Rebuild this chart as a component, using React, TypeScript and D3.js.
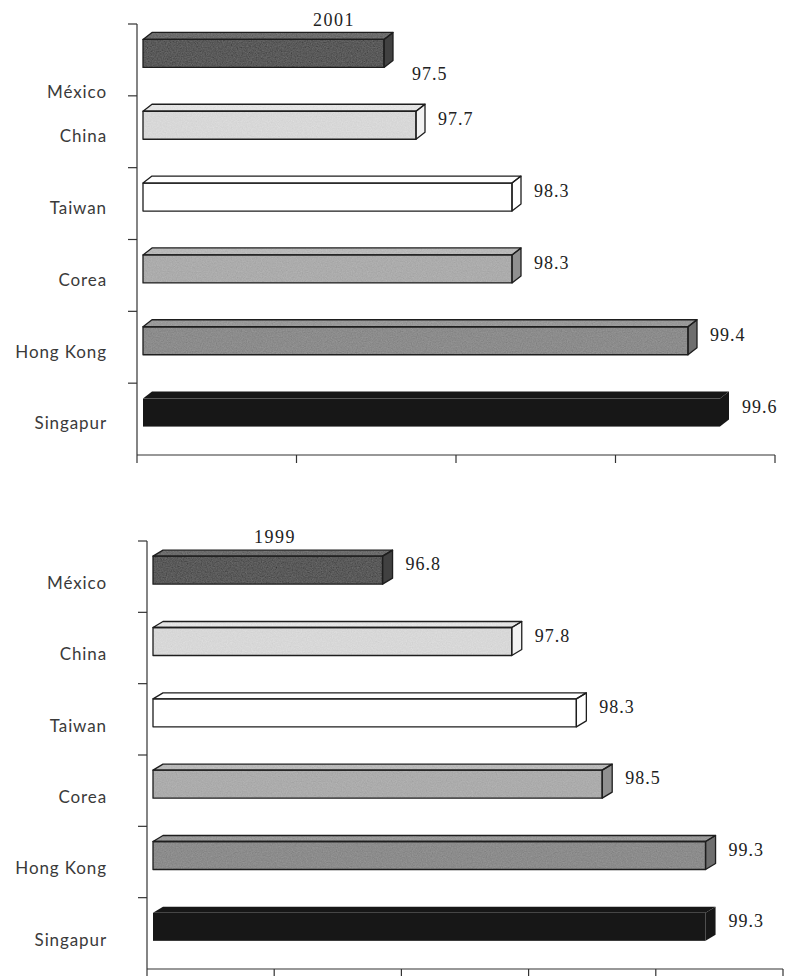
import React from "react";
import * as d3 from "d3";

const categories = ["México", "China", "Taiwan", "Corea", "Hong Kong", "Singapur"];
const values2001 = [97.5, 97.7, 98.3, 98.3, 99.4, 99.6];
const values1999 = [96.8, 97.8, 98.3, 98.5, 99.3, 99.3];
const ticks2001 = [96, 97, 98, 99, 100];
const ticks1999 = [95, 96, 97, 98, 99, 100];

const palette: Record<string, { front: string; top: string; side: string; stroke: string; tex: boolean }> = {
  "México": { front: "#5a5a5a", top: "#6c6c6c", side: "#414141", stroke: "#1e1e1e", tex: true },
  China: { front: "#d8d8d8", top: "#e4e4e4", side: "#f2f2f2", stroke: "#1e1e1e", tex: true },
  Taiwan: { front: "#ffffff", top: "#ffffff", side: "#ffffff", stroke: "#1e1e1e", tex: false },
  Corea: { front: "#acacac", top: "#b9b9b9", side: "#909090", stroke: "#1e1e1e", tex: true },
  "Hong Kong": { front: "#8c8c8c", top: "#999999", side: "#6e6e6e", stroke: "#1e1e1e", tex: true },
  Singapur: { front: "#171717", top: "#171717", side: "#171717", stroke: "none", tex: false },
};

type ChartCfg = {
  title: string;
  values: number[];
  ticks: number[];
  yTop: number;
  yBottom: number;
  axisRange: [number, number];
  barRange: [number, number];
  barStart: number;
  dx: number;
  dy: number;
  titleX: number;
  titleY: number;
  mexLabelOnTick: boolean;
  mexValueBelow: boolean;
  labelDy: number;
};

const charts: ChartCfg[] = [
  {
    title: "2001",
    values: values2001,
    ticks: ticks2001,
    yTop: 24,
    yBottom: 455,
    axisRange: [137, 775],
    barRange: [144, 784],
    barStart: 143,
    dx: 9,
    dy: 7,
    titleX: 334,
    titleY: 26,
    mexLabelOnTick: true,
    mexValueBelow: true,
    labelDy: 6,
  },
  {
    title: "1999",
    values: values1999,
    ticks: ticks1999,
    yTop: 541,
    yBottom: 969,
    axisRange: [147, 783],
    barRange: [150, 796],
    barStart: 153,
    dx: 10,
    dy: 6,
    titleX: 275,
    titleY: 543,
    mexLabelOnTick: false,
    mexValueBelow: false,
    labelDy: 8,
  },
];

function Chart({ cfg }: { cfg: ChartCfg }) {
  const domain = [cfg.ticks[0], cfg.ticks[cfg.ticks.length - 1]];
  const xAxis = d3.scaleLinear().domain(domain).range(cfg.axisRange);
  const xBar = d3.scaleLinear().domain(domain).range(cfg.barRange);
  const y = d3.scaleBand<string>().domain(categories).range([cfg.yTop, cfg.yBottom]);
  const bw = y.bandwidth();
  const h = 28;
  const axisX = cfg.axisRange[0];

  return (
    <g>
      <text
        x={cfg.titleX}
        y={cfg.titleY}
        textAnchor="middle"
        fontFamily="'Liberation Serif', serif"
        fontSize={18}
        letterSpacing={1.5}
        fill="#222"
      >
        {cfg.title}
      </text>

      <line x1={axisX} x2={axisX} y1={cfg.yTop} y2={cfg.yBottom} stroke="#333" strokeWidth={1.2} />
      {categories.map((c) => (
        <line
          key={"yt" + c}
          x1={axisX - 9}
          x2={axisX}
          y1={y(c)!}
          y2={y(c)!}
          stroke="#333"
          strokeWidth={1.2}
        />
      ))}

      <line x1={axisX} x2={cfg.axisRange[1]} y1={cfg.yBottom} y2={cfg.yBottom} stroke="#333" strokeWidth={1.2} />
      {cfg.ticks.map((t) => (
        <line
          key={"xt" + t}
          x1={xAxis(t)}
          x2={xAxis(t)}
          y1={cfg.yBottom}
          y2={cfg.yBottom + 8}
          stroke="#333"
          strokeWidth={1.2}
        />
      ))}

      {categories.map((c, i) => {
        const v = cfg.values[i];
        const col = palette[c];
        const yc = y(c)! + bw / 2 - 6.5;
        const ft = yc - h / 2;
        const fb = yc + h / 2;
        const x0 = cfg.barStart;
        const x1 = xBar(v);
        const { dx, dy } = cfg;
        const sw = col.stroke === "none" ? 0 : 1.3;
        const topPts = `${x0},${ft} ${x0 + dx},${ft - dy} ${x1 + dx},${ft - dy} ${x1},${ft}`;
        const sidePts = `${x1},${ft} ${x1 + dx},${ft - dy} ${x1 + dx},${fb - dy} ${x1},${fb}`;
        const valX = x1 + dx + (cfg.mexValueBelow && i === 0 ? 19 : 13);
        const valY = cfg.mexValueBelow && i === 0 ? yc + 22 : yc - 4;
        const labY = cfg.mexLabelOnTick && i === 0 ? y(c)! + bw - 2 : y(c)! + bw / 2 + cfg.labelDy;
        const filt = col.tex ? "url(#speckle)" : undefined;
        return (
          <g key={c}>
            <polygon points={topPts} fill={col.top} filter={filt} />
            <polygon points={sidePts} fill={col.side} />
            <rect x={x0} y={ft} width={x1 - x0} height={h} fill={col.front} filter={filt} />
            {sw > 0 && (
              <g fill="none" stroke={col.stroke} strokeWidth={sw} strokeLinejoin="round">
                <polygon points={topPts} />
                <polygon points={sidePts} />
                <rect x={x0} y={ft} width={x1 - x0} height={h} />
              </g>
            )}
            <text
              x={valX}
              y={valY}
              dominantBaseline="middle"
              fontFamily="'Liberation Serif', 'Times New Roman', serif"
              fontSize={18}
              letterSpacing={1}
              fill="#222"
            >
              {v.toFixed(1)}
            </text>
            <text
              x={107}
              y={labY}
              textAnchor="end"
              dominantBaseline="middle"
              fontFamily="Lato, sans-serif"
              fontSize={17}
              letterSpacing={0.9}
              fill="#3a3a3a"
            >
              {c}
            </text>
          </g>
        );
      })}
    </g>
  );
}

export default function App() {
  return (
    <svg width={785} height={976} style={{ position: "absolute", left: 0, top: 0, background: "#fff" }}>
      <defs>
        <filter id="speckle" x="0" y="0" width="1" height="1">
          <feTurbulence type="fractalNoise" baseFrequency="0.8" numOctaves={2} seed={4} result="noise" />
          <feColorMatrix
            in="noise"
            type="matrix"
            values="0.33 0.33 0.33 0 0  0.33 0.33 0.33 0 0  0.33 0.33 0.33 0 0  0 0 0 0 1"
            result="gray"
          />
          <feComposite in="SourceGraphic" in2="gray" operator="arithmetic" k1={0} k2={1} k3={0.2} k4={-0.1} result="mix" />
          <feComposite in="mix" in2="SourceGraphic" operator="in" />
        </filter>
      </defs>
      <rect x={0} y={0} width={785} height={976} fill="#fff" />
      {charts.map((cfg) => (
        <Chart key={cfg.title} cfg={cfg} />
      ))}
    </svg>
  );
}
